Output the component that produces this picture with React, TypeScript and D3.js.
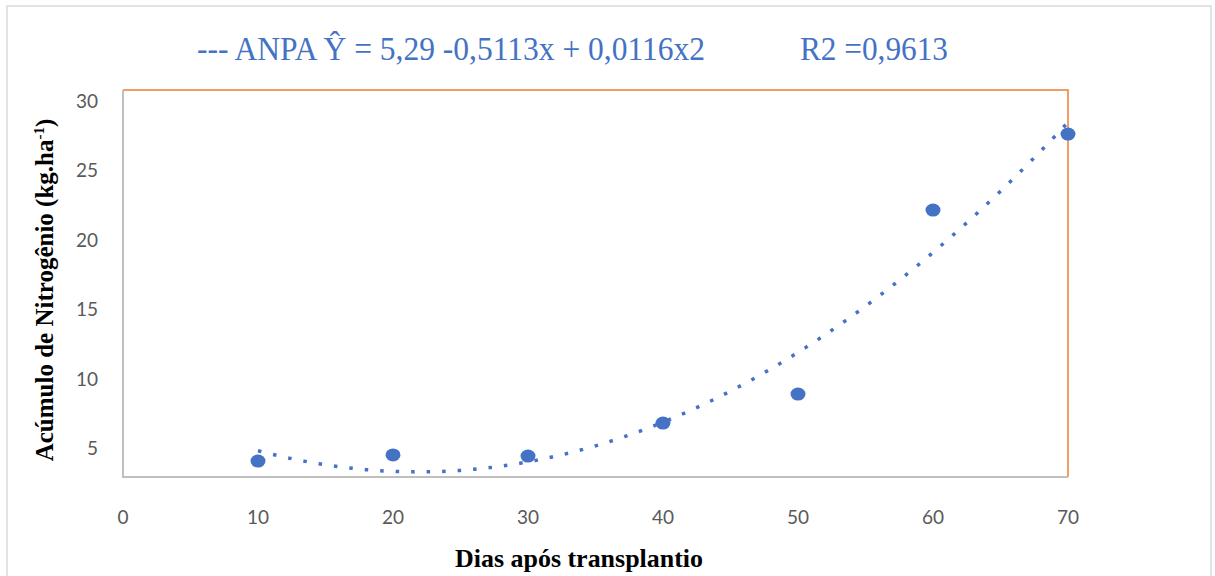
import React, { useEffect, useRef } from 'react';
import * as d3 from 'd3';

// days after transplanting
const dias = [10, 20, 30, 40, 50, 60, 70];
// accumulated nitrogen (kg/ha)
const nitrogenio = [4.05, 4.49, 4.41, 6.79, 8.88, 22.14, 27.62];

const xTicks = [0, 10, 20, 30, 40, 50, 60, 70];
const yTicks = [5, 10, 15, 20, 25, 30];

const tituloEquacao = '--- ANPA Ŷ = 5,29 -0,5113x + 0,0116x2';
const tituloR2 = 'R2 =0,9613';

// least squares quadratic fit (same as the Excel poly trendline)
function polyFit2(xs: number[], ys: number[]) {
  const n = xs.length;
  let sx = 0, sx2 = 0, sx3 = 0, sx4 = 0, sy = 0, sxy = 0, sx2y = 0;
  for (let i = 0; i < n; i++) {
    const x = xs[i];
    const y = ys[i];
    sx += x; sx2 += x * x; sx3 += x ** 3; sx4 += x ** 4;
    sy += y; sxy += x * y; sx2y += x * x * y;
  }
  const m = [
    [n, sx, sx2, sy],
    [sx, sx2, sx3, sxy],
    [sx2, sx3, sx4, sx2y],
  ];
  for (let i = 0; i < 3; i++) {
    for (let k = i + 1; k < 3; k++) {
      const f = m[k][i] / m[i][i];
      for (let j = i; j < 4; j++) m[k][j] -= f * m[i][j];
    }
  }
  const c = [0, 0, 0];
  for (let i = 2; i >= 0; i--) {
    let s = m[i][3];
    for (let j = i + 1; j < 3; j++) s -= m[i][j] * c[j];
    c[i] = s / m[i][i];
  }
  return (x: number) => c[0] + c[1] * x + c[2] * x * x;
}

export default function App() {
  const ref = useRef<SVGSVGElement>(null);

  useEffect(() => {
    const width = 1215;
    const height = 576;
    const svg = d3.select(ref.current);
    svg.selectAll('*').remove();

    const blue = '#4472C4';
    const plot = { left: 123, right: 1068, top: 90, bottom: 477 };

    const xScale = d3.scaleLinear().domain([0, 70]).range([plot.left, plot.right]);
    const yScale = d3.scaleLinear().domain([2.9, 30.8]).range([plot.bottom, plot.top]);

    svg.append('rect').attr('width', width).attr('height', height).attr('fill', '#fff');

    // outer chart frame
    svg
      .append('rect')
      .attr('x', 7)
      .attr('y', 6)
      .attr('width', 1204)
      .attr('height', 600)
      .attr('fill', 'none')
      .attr('stroke', '#d9d9d9')
      .attr('stroke-width', 1.5);

    // plot area border: orange top/right, gray left/bottom
    svg
      .append('path')
      .attr('d', `M${plot.left},${plot.top}H${plot.right}V${plot.bottom}`)
      .attr('fill', 'none')
      .attr('stroke', '#ED7D31')
      .attr('stroke-width', 1.5);
    svg
      .append('path')
      .attr('d', `M${plot.left},${plot.top}V${plot.bottom}H${plot.right}`)
      .attr('fill', 'none')
      .attr('stroke', '#bfbfbf')
      .attr('stroke-width', 2);

    // tick labels
    svg
      .append('g')
      .selectAll('text')
      .data(xTicks)
      .enter()
      .append('text')
      .attr('x', (d) => xScale(d))
      .attr('y', 524)
      .attr('text-anchor', 'middle')
      .attr('font-family', 'Lato, "Open Sans", sans-serif')
      .attr('font-size', 19)
      .attr('fill', '#595959')
      .text((d) => d);

    svg
      .append('g')
      .selectAll('text')
      .data(yTicks)
      .enter()
      .append('text')
      .attr('x', 98)
      .attr('y', (d) => yScale(d) + 7)
      .attr('text-anchor', 'end')
      .attr('font-family', 'Lato, "Open Sans", sans-serif')
      .attr('font-size', 19)
      .attr('fill', '#595959')
      .text((d) => d);

    // trendline
    const fit = polyFit2(dias, nitrogenio);
    const trendX = d3.range(10, 70.01, 0.5);
    const line = d3
      .line<number>()
      .x((d) => xScale(d))
      .y((d) => yScale(fit(d)))
      .curve(d3.curveMonotoneX);
    svg
      .append('path')
      .datum(trendX)
      .attr('d', line)
      .attr('fill', 'none')
      .attr('stroke', blue)
      .attr('stroke-width', 3.5)
      .attr('stroke-dasharray', '3.5 12');

    // markers
    svg
      .append('g')
      .selectAll('ellipse')
      .data(dias)
      .enter()
      .append('ellipse')
      .attr('cx', (d) => xScale(d))
      .attr('cy', (_d, i) => yScale(nitrogenio[i]))
      .attr('rx', 7.5)
      .attr('ry', 6.5)
      .attr('fill', blue);

    // title
    svg
      .append('text')
      .attr('x', 197)
      .attr('y', 60)
      .attr('font-family', '"Liberation Serif", "Times New Roman", serif')
      .attr('font-size', 34)
      .attr('fill', blue)
      .attr('textLength', 508)
      .attr('lengthAdjust', 'spacingAndGlyphs')
      .text(tituloEquacao);
    svg
      .append('text')
      .attr('x', 800)
      .attr('y', 60)
      .attr('font-family', '"Liberation Serif", "Times New Roman", serif')
      .attr('font-size', 34)
      .attr('fill', blue)
      .attr('textLength', 148)
      .attr('lengthAdjust', 'spacingAndGlyphs')
      .text(tituloR2);

    // axis titles
    svg
      .append('text')
      .attr('x', 579)
      .attr('y', 567)
      .attr('text-anchor', 'middle')
      .attr('font-family', '"Liberation Serif", "Times New Roman", serif')
      .attr('font-weight', 'bold')
      .attr('font-size', 26)
      .attr('fill', '#000')
      .attr('textLength', 248)
      .attr('lengthAdjust', 'spacingAndGlyphs')
      .text('Dias após transplantio');

    const yTitle = svg
      .append('text')
      .attr('transform', 'translate(53,290) rotate(-90)')
      .attr('text-anchor', 'middle')
      .attr('font-family', '"Liberation Serif", "Times New Roman", serif')
      .attr('font-weight', 'bold')
      .attr('font-size', 25)
      .attr('fill', '#000');
    yTitle.append('tspan').text('Acúmulo de Nitrogênio (kg.ha');
    yTitle.append('tspan').attr('font-size', 15).attr('dy', -9).text('-1');
    yTitle.append('tspan').attr('dy', 9).text(')');
  }, []);

  return (
    <svg
      ref={ref}
      width={1215}
      height={576}
      style={{ position: 'absolute', left: 0, top: 0 }}
    />
  );
}
